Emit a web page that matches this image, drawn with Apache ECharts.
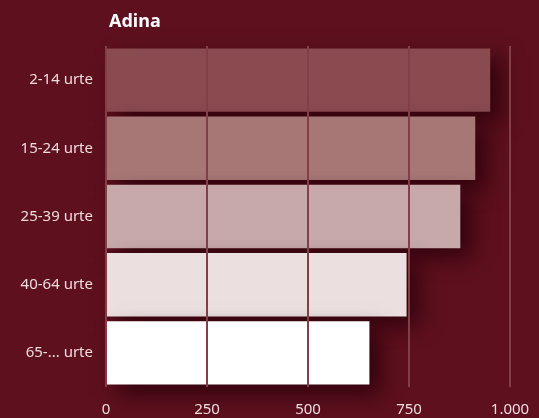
<!DOCTYPE html>
<html>
<head>
<meta charset="utf-8">
<style>
  html, body { margin: 0; padding: 0; background: #5e101e; }
  #chart { width: 539px; height: 418px; }
</style>
<script src="https://cdn.jsdelivr.net/npm/echarts@6/dist/echarts.min.js"></script>
</head>
<body>
<div id="chart"></div>
<script>
// adin-taldeak, goitik behera
var categories = ["2-14 urte", "15-24 urte", "25-39 urte", "40-64 urte", "65-... urte"];
var values = [951, 914, 877, 744, 652];
var barColors = ["#894a50", "#a67774", "#c6a9a8", "#ebdfe0", "#ffffff"];
var xTicks = [0, 250, 500, 750, 1000];

var chart = echarts.init(document.getElementById("chart"));

var option = {
  backgroundColor: "#5e101e",
  animation: false,
  title: {
    text: "Adina",
    left: 104,
    top: 8,
    textStyle: {
      color: "#ffffff",
      fontFamily: "Noto Sans",
      fontWeight: "bold",
      fontSize: 18
    }
  },
  grid: {
    left: 106,
    right: 29,
    top: 46,
    height: 341
  },
  xAxis: {
    type: "value",
    min: xTicks[0],
    max: xTicks[xTicks.length - 1],
    interval: 250,
    z: 10,
    axisLine: { show: false },
    axisTick: { show: false },
    splitLine: {
      lineStyle: { color: "#833f49", width: 2 }
    },
    axisLabel: {
      margin: 15,
      color: "#f0dcdd",
      fontFamily: "Noto Sans",
      fontSize: 15,
      formatter: function (v) {
        return v >= 1000 ? String(v).replace(/\B(?=(\d{3})+(?!\d))/g, ".") : String(v);
      }
    }
  },
  yAxis: {
    type: "category",
    inverse: true,
    data: categories,
    axisLine: { show: false },
    axisTick: { show: false },
    axisLabel: {
      margin: 13,
      color: "#f0dcdd",
      fontFamily: "Noto Sans",
      fontSize: 15
    }
  },
  series: [
    {
      type: "bar",
      barCategoryGap: "7%",
      data: values.map(function (v, i) {
        return {
          value: v,
          itemStyle: { color: barColors[i] }
        };
      }),
      itemStyle: {
        shadowColor: "rgba(40, 0, 10, 0.8)",
        shadowBlur: 20,
        shadowOffsetX: 12,
        shadowOffsetY: 10
      }
    }
  ]
};

chart.setOption(option);
</script>
</body>
</html>
